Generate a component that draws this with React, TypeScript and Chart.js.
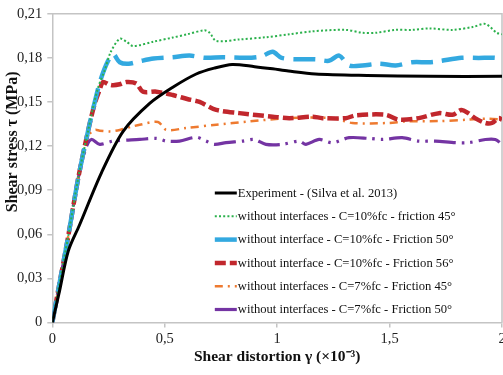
import { useEffect, useRef } from "react";
import { Chart, registerables } from "chart.js";

Chart.register(...registerables);

// Experiment - (Silva et al. 2013)
const expX = [0, 0.03, 0.071, 0.12, 0.219, 0.315, 0.433, 0.536, 0.64, 0.72, 0.8, 0.9, 0.98, 1.05, 1.17, 1.4, 1.674, 2.0];
const expY = [0, 0.02, 0.0486, 0.066, 0.102, 0.13, 0.149, 0.16, 0.169, 0.173, 0.1755, 0.174, 0.1725, 0.171, 0.169, 0.168, 0.1674, 0.1674];

// without interfaces - C=10%fc - friction 45°
const g45X = [0, 0.03, 0.07, 0.115, 0.16, 0.2, 0.234, 0.26, 0.3, 0.33, 0.36, 0.45, 0.536, 0.6, 0.677, 0.7, 0.729, 0.832, 0.95, 1.054, 1.156, 1.305, 1.38, 1.438, 1.527, 1.6, 1.676, 1.78, 1.87, 1.926, 1.977, 2.0];
const g45Y = [0, 0.025, 0.058, 0.098, 0.131, 0.158, 0.172, 0.184, 0.193, 0.191, 0.188, 0.191, 0.1938, 0.196, 0.1987, 0.197, 0.1915, 0.1925, 0.194, 0.196, 0.198, 0.199, 0.197, 0.197, 0.199, 0.199, 0.2, 0.199, 0.201, 0.203, 0.197, 0.196];

// without interface - C=10%fc - Friction 50°
const b50X = [0, 0.03, 0.07, 0.115, 0.16, 0.2, 0.219, 0.245, 0.27, 0.3, 0.34, 0.389, 0.45, 0.536, 0.61, 0.68, 0.758, 0.862, 0.93, 0.98, 1.02, 1.098, 1.172, 1.23, 1.276, 1.32, 1.379, 1.453, 1.527, 1.6, 1.674, 1.72, 1.82, 1.896, 1.97, 2.0];
const b50Y = [0, 0.025, 0.058, 0.098, 0.131, 0.157, 0.167, 0.177, 0.1826, 0.177, 0.176, 0.1777, 0.1795, 0.1804, 0.1815, 0.18, 0.1804, 0.18, 0.181, 0.1841, 0.18, 0.179, 0.179, 0.178, 0.1815, 0.1748, 0.1748, 0.176, 0.1748, 0.177, 0.177, 0.1777, 0.18, 0.1799, 0.18, 0.1785];

// without interface - C=10%fc - Friction 56°
const r56X = [0, 0.03, 0.07, 0.115, 0.16, 0.189, 0.21, 0.226, 0.25, 0.27, 0.3, 0.33, 0.374, 0.403, 0.463, 0.536, 0.6, 0.655, 0.729, 0.832, 0.98, 1.054, 1.157, 1.201, 1.305, 1.349, 1.482, 1.541, 1.63, 1.72, 1.78, 1.82, 1.85, 1.88, 1.926, 1.955, 1.985, 2.0];
const r56Y = [0, 0.025, 0.058, 0.098, 0.131, 0.149, 0.158, 0.1636, 0.162, 0.1614, 0.162, 0.1636, 0.1625, 0.157, 0.157, 0.1547, 0.152, 0.15, 0.1446, 0.1424, 0.14, 0.139, 0.14, 0.139, 0.139, 0.1409, 0.1413, 0.138, 0.139, 0.1424, 0.1413, 0.1446, 0.1424, 0.139, 0.1357, 0.1357, 0.139, 0.138];

// without interfaces - C=7%fc - Friction 45°
const o45X = [0, 0.03, 0.07, 0.115, 0.16, 0.19, 0.211, 0.256, 0.3, 0.36, 0.389, 0.47, 0.507, 0.596, 0.729, 0.877, 1.054, 1.246, 1.335, 1.497, 1.571, 1.72, 1.85, 1.94, 2.0];
const o45Y = [0, 0.025, 0.058, 0.098, 0.127, 0.131, 0.1305, 0.13, 0.131, 0.1335, 0.1345, 0.1364, 0.131, 0.1323, 0.1345, 0.1368, 0.139, 0.139, 0.1357, 0.1357, 0.1368, 0.137, 0.138, 0.1386, 0.138];

// without interfaces - C=7%fc - Friction 50°
const p50X = [0, 0.03, 0.07, 0.115, 0.15, 0.174, 0.211, 0.27, 0.389, 0.463, 0.507, 0.566, 0.64, 0.684, 0.72, 0.773, 0.847, 0.898, 0.95, 1.024, 1.098, 1.128, 1.187, 1.246, 1.32, 1.409, 1.468, 1.556, 1.63, 1.704, 1.793, 1.85, 1.926, 1.97, 2.0];
const p50Y = [0, 0.025, 0.058, 0.098, 0.119, 0.1245, 0.1212, 0.1234, 0.1245, 0.1252, 0.1234, 0.1234, 0.126, 0.1234, 0.1212, 0.1223, 0.1234, 0.1245, 0.1212, 0.1212, 0.1234, 0.1212, 0.1245, 0.1223, 0.1257, 0.1252, 0.1245, 0.1257, 0.1234, 0.1234, 0.1223, 0.1223, 0.1245, 0.1245, 0.1212];

const seriesLabels = [
  "Experiment - (Silva et al. 2013)",
  "without interfaces - C=10%fc - friction 45°",
  "without interface - C=10%fc - Friction 50°",
  "without interface - C=10%fc - Friction 56°",
  "without interfaces - C=7%fc - Friction 45°",
  "without interfaces - C=7%fc - Friction 50°",
];

const xTicks = [0, 0.5, 1, 1.5, 2];
const yTicks = [0, 0.03, 0.06, 0.09, 0.12, 0.15, 0.18, 0.21];
const xTitle = "Shear distortion γ (×10⁻³)";
const yTitle = "Shear stress τ (MPa)";

const SERIF = "'Liberation Serif', 'Times New Roman', serif";
const AXIS_GRAY = "#c4c4c4";

const pts = (xs: number[], ys: number[]) => xs.map((x, i) => ({ x, y: ys[i] }));
// Decimal comma, no trailing zeros: 0.5 -> "0,5", 1 -> "1", 0.09 -> "0,09"
const comma = (v: number, digits: number) => String(parseFloat(v.toFixed(digits))).replace(".", ",");

// Frame lines on the top and right of the plot area
const framePlugin = {
  id: "frame",
  beforeDatasetsDraw(chart: any) {
    const { ctx, chartArea: a } = chart;
    ctx.save();
    ctx.strokeStyle = AXIS_GRAY;
    ctx.lineWidth = 1.5;
    ctx.beginPath();
    ctx.moveTo(a.left, a.top);
    ctx.lineTo(a.right, a.top);
    ctx.lineTo(a.right, a.bottom);
    ctx.stroke();
    ctx.restore();
  },
};

// Vertical axis title, set a little above the middle of the axis
const yTitlePlugin = {
  id: "yTitle",
  afterDraw(chart: any) {
    const { ctx, chartArea: a } = chart;
    const cy = a.top + (a.bottom - a.top) * 0.415;
    ctx.save();
    ctx.translate(12.5, cy);
    ctx.rotate(-Math.PI / 2);
    ctx.font = `bold 16px ${SERIF}`;
    ctx.fillStyle = "#111";
    ctx.textAlign = "center";
    ctx.textBaseline = "middle";
    ctx.fillText(yTitle, 0, 0);
    ctx.restore();
  },
};

// Legend drawn inside the plot area, lower right
const legendPlugin = {
  id: "innerLegend",
  afterDraw(chart: any) {
    const { ctx, chartArea: a } = chart;
    const x0 = a.left + 162.5;
    const sampleLen = 22;
    const y0 = a.top + 179.3;
    const step = 23.3;
    ctx.save();
    chart.data.datasets.forEach((ds: any, i: number) => {
      const y = y0 + i * step;
      ctx.strokeStyle = ds.borderColor;
      ctx.lineWidth = ds.borderWidth;
      ctx.setLineDash(ds.borderDash || []);
      ctx.lineCap = ds.borderCapStyle || "butt";
      ctx.beginPath();
      ctx.moveTo(x0, y);
      ctx.lineTo(x0 + sampleLen, y);
      ctx.stroke();
      ctx.setLineDash([]);
      ctx.fillStyle = "#111";
      ctx.font = `12.6px ${SERIF}`;
      ctx.textBaseline = "middle";
      ctx.textAlign = "left";
      ctx.fillText(ds.label, x0 + sampleLen + 1, y + 0.5);
    });
    ctx.restore();
  },
};

export default function App() {
  const canvasRef = useRef<HTMLCanvasElement | null>(null);

  useEffect(() => {
    const canvas = canvasRef.current;
    if (!canvas) return;
    const line = (label: string, data: any[], color: string, width: number, dash: number[], cap = "butt") => ({
      label,
      data,
      borderColor: color,
      backgroundColor: color,
      borderWidth: width,
      borderDash: dash,
      borderCapStyle: cap,
      pointRadius: 0,
      tension: 0.3,
      fill: false,
    });
    const chart = new Chart(canvas, {
      type: "line",
      data: {
        datasets: [
          line(seriesLabels[0], pts(expX, expY), "#000000", 3, []),
          line(seriesLabels[1], pts(g45X, g45Y), "#2bb14c", 2, [2, 2.2]),
          line(seriesLabels[2], pts(b50X, b50Y), "#33a9e0", 4.5, [22, 9]),
          line(seriesLabels[3], pts(r56X, r56Y), "#c1272d", 4.5, [11, 4]),
          line(seriesLabels[4], pts(o45X, o45Y), "#ee7a30", 2.5, [8, 5, 2, 5]),
          line(seriesLabels[5], pts(p50X, p50Y), "#7434a3", 3.2, [22, 6, 2.5, 6, 2.5, 6]),
        ] as any,
      },
      options: {
        responsive: false,
        animation: false,
        devicePixelRatio: 1,
        layout: { padding: { top: 9, right: 1, left: 0, bottom: 0 } },
        plugins: { legend: { display: false }, tooltip: { enabled: false } },
        scales: {
          x: {
            type: "linear",
            min: 0,
            max: 2,
            afterBuildTicks: (s: any) => {
              s.ticks = xTicks.map((v) => ({ value: v }));
            },
            afterFit: (s: any) => {
              s.height = 52.4;
              s.paddingLeft = 0;
              s.paddingRight = 0;
            },
            grid: { drawOnChartArea: false, drawTicks: true, tickLength: 5, color: AXIS_GRAY, lineWidth: 1.5 },
            border: { color: AXIS_GRAY, width: 1.5 },
            ticks: {
              color: "#222",
              font: { family: SERIF, size: 14.5 },
              padding: 3,
              maxRotation: 0,
              callback: (v: any) => comma(Number(v), 1),
            },
            title: {
              display: true,
              text: xTitle,
              color: "#111",
              font: { family: SERIF, size: 15.5, weight: "bold" },
              padding: { top: 2, bottom: 9 },
            },
          },
          y: {
            type: "linear",
            min: 0,
            max: 0.21,
            afterBuildTicks: (s: any) => {
              s.ticks = yTicks.map((v) => ({ value: v }));
            },
            afterFit: (s: any) => {
              s.width = 52.3;
            },
            grid: { drawOnChartArea: false, drawTicks: true, tickLength: 5, color: AXIS_GRAY, lineWidth: 1.5 },
            border: { color: AXIS_GRAY, width: 1.5 },
            ticks: {
              color: "#222",
              font: { family: SERIF, size: 14.5 },
              padding: 5,
              callback: (v: any) => comma(Number(v), 2),
            },
            title: { display: false },
          },
        },
      },
      plugins: [framePlugin, legendPlugin, yTitlePlugin],
    });
    return () => chart.destroy();
  }, []);

  return (
    <div style={{ position: "fixed", left: 0, top: 0, width: 503, height: 375, background: "#fff" }}>
      <canvas ref={canvasRef} width={503} height={375} />
    </div>
  );
}
